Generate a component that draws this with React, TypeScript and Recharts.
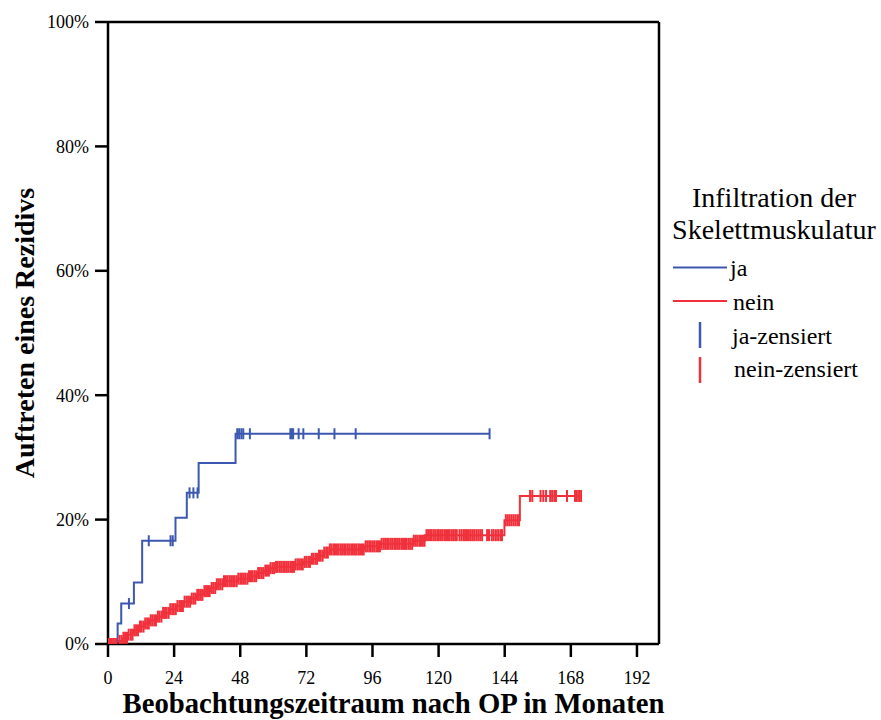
import {
  ComposedChart, Line, Scatter, XAxis, YAxis, ReferenceLine,
} from 'recharts';

const BLUE = '#3c58b0';
const RED = '#f0313c';
const FONT = 'Liberation Serif, Times New Roman, serif';

const xTicks = [0, 24, 48, 72, 96, 120, 144, 168, 192];
const yTicks = [0, 20, 40, 60, 80, 100];

// ja: Stufen der kumulativen Rezidivrate (Monate / %)
const jaTimes = [0, 3.5, 4.8, 9.4, 12.4, 24.5, 28.6, 32.9, 46.3, 138.5];
const jaValues = [0, 3.3, 6.5, 9.9, 16.6, 20.3, 24.3, 29.1, 33.8, 33.8];
const jaCensored = [
  7.6, 14.8, 22.7, 23.5, 29.6, 31.0, 32.5, 46.9, 47.6, 48.4, 49.1, 51.5,
  66.2, 66.7, 67.2, 69.2, 70.9, 76.5, 82.2, 89.9, 138.5,
];

// nein
const neinTimes = [
  0, 4, 5.5, 7, 9, 11, 13, 15, 17.5, 20, 22.5, 25, 27.5, 30, 32, 34.5, 37, 39.5,
  42, 47, 51, 54, 56.5, 59, 61, 68, 71, 74, 76, 78, 80.5, 93, 99, 111, 115,
  143.9, 149.5, 171.7,
];
const neinValues = [
  0, 0.5, 1.0, 1.5, 2.2, 2.8, 3.3, 3.8, 4.4, 5.0, 5.6, 6.1, 6.8, 7.3, 7.9, 8.5,
  9.0, 9.6, 10.1, 10.5, 10.9, 11.4, 11.8, 12.2, 12.4, 12.8, 13.2, 13.7, 14.2,
  14.7, 15.2, 15.7, 16.1, 16.6, 17.5, 19.9, 23.8, 23.8,
];
const neinCensored = [
  0.3, 0.8, 1.4, 2.0, 2.6, 3.1, 4.2, 4.9, 5.6, 6.2, 6.9, 7.5, 8.3, 8.9, 9.6,
  10.2, 10.9, 11.6, 12.2, 12.9, 13.5, 14.2, 14.8, 15.5, 16.1, 16.8, 17.4, 18.1,
  18.7, 19.4, 20.0, 20.7, 21.3, 22.0, 22.6, 23.3, 23.9, 24.6, 25.2, 25.9, 26.5,
  27.2, 27.8, 28.5, 29.1, 29.8, 30.4, 31.1, 31.7, 32.4, 33.0, 33.7, 34.3, 35.0,
  35.6, 36.3, 36.9, 37.6, 38.2, 38.9, 39.5, 40.2, 40.8, 41.5, 42.1, 42.8, 43.4,
  44.1, 44.7, 45.4, 46.0, 46.7, 47.3, 48.0, 48.6, 49.3, 49.9, 50.6, 51.2, 51.9,
  52.5, 53.2, 53.8, 54.5, 55.1, 55.8, 56.4, 57.1, 57.7, 58.4, 59.0, 59.7, 60.3,
  61.0, 61.6, 62.3, 62.9, 63.6, 64.2, 64.9, 65.5, 66.2, 66.8, 67.5, 68.1, 68.8,
  69.4, 70.1, 70.7, 71.4, 72.0, 72.7, 73.3, 74.0, 74.6, 75.3, 75.9, 76.6, 77.2,
  77.9, 78.5, 79.2, 79.8, 80.5, 81.1, 81.8, 82.4, 83.1, 83.7, 84.4, 85.0, 85.7,
  86.3, 87.0, 87.6, 88.3, 88.9, 89.6, 90.2, 90.9, 91.5, 92.2, 92.8, 93.5, 94.1,
  94.8, 95.4, 96.1, 96.7, 97.4, 98.0, 98.7, 99.3, 100.0, 100.6, 101.3, 101.9,
  102.6, 103.2, 103.9, 104.5, 105.2, 105.8, 106.5, 107.1, 107.8, 108.4, 109.1,
  109.7, 110.4, 111.0, 111.7, 112.3, 113.0, 113.6, 114.3, 114.9, 115.6, 116.2,
  116.9, 117.5, 118.2, 118.8, 119.5, 120.1, 120.8, 121.4, 122.1, 122.7, 123.4,
  124.0, 124.7, 125.3, 126.0, 126.6, 127.6, 128.3, 129.0, 129.6, 130.3, 131.0,
  131.7, 132.4, 133.0, 133.7, 134.4, 135.1, 135.8, 137.6, 138.3, 139.3, 140.0,
  140.8, 141.6, 142.4, 143.0, 144.4, 145.1, 145.8, 146.5, 147.2, 147.9, 148.6,
  149.2, 153.2, 154.0, 157.0, 158.0, 159.0, 160.5, 161.2, 162.0, 162.6, 166.6,
  169.5, 170.2, 171.0, 171.7,
];

const steps = (ts: number[], vs: number[]) => ts.map((t, i) => ({ t, v: vs[i] }));

// Zensierungen liegen auf der Treppe: Wert der letzten Stufe <= t
const onCurve = (ts: number[], vs: number[], cs: number[]) =>
  cs.map(t => {
    let v = vs[0];
    ts.forEach((s, i) => { if (s <= t) v = vs[i]; });
    return { t, v };
  });

const jaLine = steps(jaTimes, jaValues);
const neinLine = steps(neinTimes, neinValues);
const jaMarks = onCurve(jaTimes, jaValues, jaCensored);
const neinMarks = onCurve(neinTimes, neinValues, neinCensored);

const tickMark = (color: string, half: number) => (p: any) => (
  <line x1={p.cx} x2={p.cx} y1={p.cy - half} y2={p.cy + half} stroke={color} strokeWidth={2} />
);

const tickStyle = { fontSize: 18, fill: '#000', fontFamily: FONT, style: { fontFamily: FONT } };
const serif = { fontFamily: FONT };

function LegendBox() {
  return (
    <svg width={881} height={720} style={{ position: 'absolute', left: 0, top: 0, pointerEvents: 'none' }}>
      <g fill="#000" style={serif}>
        <text x={774} y={206.5} fontSize={28} textAnchor="middle" style={serif}>Infiltration der</text>
        <text x={774} y={238.5} fontSize={28} textAnchor="middle" style={serif}>Skelettmuskulatur</text>
        <line x1={673} x2={727} y1={267.5} y2={267.5} stroke={BLUE} strokeWidth={2} />
        <text x={730} y={275.5} fontSize={24} style={serif}>ja</text>
        <line x1={673} x2={727} y1={301} y2={301} stroke={RED} strokeWidth={2} />
        <text x={733} y={309.5} fontSize={24} style={serif}>nein</text>
        <line x1={700} x2={700} y1={322} y2={348} stroke={BLUE} strokeWidth={2.5} />
        <text x={732} y={343.5} fontSize={24} style={serif}>ja-zensiert</text>
        <line x1={700} x2={700} y1={357} y2={383} stroke={RED} strokeWidth={2.5} />
        <text x={734} y={377} fontSize={24} style={serif}>nein-zensiert</text>
      </g>
    </svg>
  );
}

export default function App() {
  return (
    <div style={{ position: 'absolute', left: 0, top: 0, width: 881, height: 720, background: '#fff', fontFamily: FONT }}>
      <ComposedChart
        width={881} height={720}
        margin={{ top: 22, right: 222, bottom: 16, left: 8 }}
        style={{ fontFamily: FONT }}
      >
        <XAxis
          dataKey="t" type="number" domain={[0, 200]} ticks={xTicks} allowDataOverflow
          height={60} tick={tickStyle} tickSize={13} tickMargin={14}
          stroke="#000" strokeWidth={2.5}
          label={{
            content: () => (
              <text x={393.5} y={713} textAnchor="middle" fontSize={28.7} fontWeight="bold" fill="#000" style={serif}>
                Beobachtungszeitraum nach OP in Monaten
              </text>
            ),
          }}
        />
        <YAxis
          dataKey="v" type="number" domain={[0, 100]} ticks={yTicks} allowDataOverflow
          width={100} tick={tickStyle} tickSize={13} tickMargin={6}
          tickFormatter={(v: number) => `${v}%`}
          stroke="#000" strokeWidth={2.5}
          label={{
            content: () => (
              <text
                x={34} y={333} transform="rotate(-90 34 333)" textAnchor="middle"
                fontSize={28} fontWeight="bold" fill="#000" style={serif}
              >
                Auftreten eines Rezidivs
              </text>
            ),
          }}
        />
        <ReferenceLine y={100} stroke="#000" strokeWidth={2.5} />
        <ReferenceLine x={200} stroke="#000" strokeWidth={2.5} />
        <Line
          data={neinLine} dataKey="v" type="stepAfter" stroke={RED} strokeWidth={2}
          dot={false} activeDot={false} isAnimationActive={false} name="nein"
        />
        <Line
          data={jaLine} dataKey="v" type="stepAfter" stroke={BLUE} strokeWidth={2}
          dot={false} activeDot={false} isAnimationActive={false} name="ja"
        />
        <Scatter data={neinMarks} dataKey="v" shape={tickMark(RED, 6)} isAnimationActive={false} name="nein-zensiert" />
        <Scatter data={jaMarks} dataKey="v" shape={tickMark(BLUE, 5.5)} isAnimationActive={false} name="ja-zensiert" />
      </ComposedChart>
      <LegendBox />
    </div>
  );
}
